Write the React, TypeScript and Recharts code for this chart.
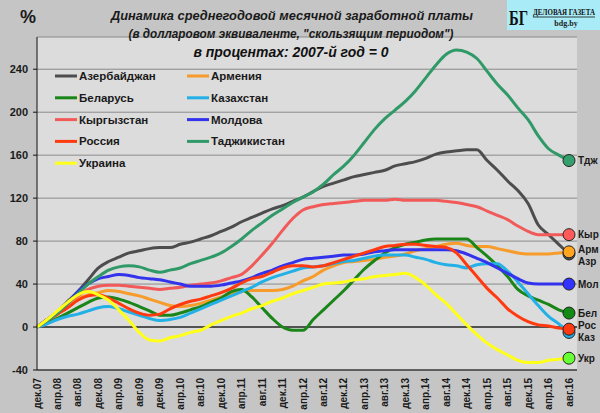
import React from "react";
import { LineChart, Line, XAxis, YAxis, CartesianGrid, ReferenceLine } from "recharts";

const months = ["дек.07","фев.08","апр.08","июн.08","авг.08","окт.08","дек.08","фев.09","апр.09","июн.09","авг.09","окт.09","дек.09","фев.10","апр.10","июн.10","авг.10","окт.10","дек.10","фев.11","апр.11","июн.11","авг.11","окт.11","дек.11","фев.12","апр.12","июн.12","авг.12","окт.12","дек.12","фев.13","апр.13","июн.13","авг.13","окт.13","дек.13","фев.14","апр.14","июн.14","авг.14","окт.14","дек.14","фев.15","апр.15","июн.15","авг.15","окт.15","дек.15","фев.16","апр.16","июн.16","авг.16"];

const azerbaijan = [0,7,14,24,33,44,55,61,65,69,71,73,74,74,77,79,82,85,89,93,98,102,106,110,113,117,121,126,131,134,137,140,142,144,146,150,152,154,157,161,163,164,165,165,155,146,136,127,115,95,86,77,68];
const armenia = [0,6,12,19,26,30,32,34,33,31,29,26,23,20,19,20,22,25,28,31,33,34,34,34,35,38,43,47,53,57,60,61,62,63,65,66,68,71,73,75,77,78,76,75,75,73,71,69,68,68,68,69,70];
const belarus = [0,4,8,13,18,23,27,28,26,23,19,15,11,11,13,16,19,23,27,33,35,28,18,8,0,-3,-3,7,16,25,34,44,54,62,69,74,77,79,81,82,82,82,82,74,66,57,47,35,29,25,21,16,13];
const kazakhstan = [0,3,7,10,12,15,18,19,17,14,11,8,6,7,9,13,17,21,25,29,33,37,42,46,49,52,55,56,57,59,61,62,64,66,67,67,67,65,63,60,58,57,55,58,59,59,52,42,31,20,10,3,-5];
const kyrgyzstan = [0,7,14,22,29,35,38,39,39,38,37,36,35,36,37,39,40,41,43,46,49,57,67,78,90,101,109,112,114,115,116,117,118,118,118,119,118,118,118,118,117,116,114,112,108,104,100,94,89,86,86,86,86];
const moldova = [0,7,14,22,33,40,45,47,49,48,46,45,44,42,40,38,38,38,39,41,43,46,50,53,57,60,63,64,65,66,67,67,68,70,71,72,72,72,72,72,72,71,68,64,60,55,50,45,41,40,40,40,40];
const russia = [0,6,12,18,25,29,30,27,22,17,13,11,12,17,21,24,26,29,32,36,41,45,47,51,55,57,57,56,57,60,63,66,69,72,75,76,77,77,76,75,74,69,58,47,36,27,17,10,5,2,1,-1,-2];
const tajikistan = [0,6,13,22,31,40,47,53,56,57,56,53,51,53,55,59,62,65,69,75,82,90,97,104,110,116,121,126,133,142,150,160,172,184,194,202,210,220,232,244,254,258,256,250,238,226,216,204,193,178,166,160,155];
const ukraine = [0,7,15,23,30,33,30,25,16,6,-5,-12,-13,-10,-8,-5,-3,2,6,10,13,17,20,24,27,31,34,37,40,41,42,44,45,47,48,49,50,46,39,30,22,12,2,-7,-15,-21,-26,-31,-33,-33,-31,-30,-29];

const yTicks = [-40, 0, 40, 80, 120, 160, 200, 240];

const series = [
  { key: "az", name: "Азербайджан", values: azerbaijan, color: "#4d4d4d", dot: "#4d4d4d", label: "Азр", dy: 8 },
  { key: "am", name: "Армения", values: armenia, color: "#f79b2a", dot: "#ffa51f", label: "Арм", dy: -2 },
  { key: "by", name: "Беларусь", values: belarus, color: "#1a861a", dot: "#138a13", label: "Бел", dy: 0 },
  { key: "kz", name: "Казахстан", values: kazakhstan, color: "#22b0e6", dot: "#22b0e6", label: "Каз", dy: 5 },
  { key: "kg", name: "Кыргызстан", values: kyrgyzstan, color: "#f25a5a", dot: "#ff5a5a", label: "Кыр", dy: 0 },
  { key: "md", name: "Молдова", values: moldova, color: "#3333ee", dot: "#3333ff", label: "Мол", dy: 0 },
  { key: "ru", name: "Россия", values: russia, color: "#ff3a10", dot: "#ff3a10", label: "Рос", dy: -4 },
  { key: "tj", name: "Таджикистан", values: tajikistan, color: "#2f9a68", dot: "#35a06d", label: "Тдж", dy: 0 },
  { key: "ua", name: "Украина", values: ukraine, color: "#ffff1a", dot: "#66ff33", label: "Укр", dy: 0 },
];

const data = months.map((m, i) => {
  const row: any = { month: m };
  series.forEach((s) => (row[s.key] = s.values[i]));
  return row;
});

const LAST = months.length - 1;
const FONT = "'Liberation Sans', Arial, sans-serif";

const makeDot = (s: any) => (props: any) => {
  const { cx, cy, index } = props;
  if (index !== LAST) return <g key={`${s.key}-${index}`} />;
  return (
    <g key={`${s.key}-${index}`}>
      <circle cx={cx} cy={cy} r={6} fill={s.dot} stroke="#222" strokeWidth={1} />
      <text x={cx + 9} y={cy + s.dy} dominantBaseline="central" fontSize={10} fontWeight="bold" fill="#1a1a1a" fontFamily={FONT}>
        {s.label}
      </text>
    </g>
  );
};

const XTick = (props: any) => {
  const { x, y, payload } = props;
  return (
    <text x={x} y={y} transform={`rotate(-90 ${x} ${y})`} textAnchor="end" dominantBaseline="central" fontSize={10} fontWeight="bold" fill="#1a1a1a" fontFamily={FONT}>
      {payload.value}
    </text>
  );
};

const legendRows = [
  ["az", "am"],
  ["by", "kz"],
  ["kg", "md"],
  ["ru", "tj"],
  ["ua"],
];

export default function App() {
  return (
    <div style={{ position: "absolute", left: 0, top: 0, width: 600, height: 413, background: "#c5c5c5", fontFamily: FONT }}>
      <LineChart width={600} height={413} data={data} margin={{ top: 37, right: 23, bottom: 0, left: 0 }}>
        <CartesianGrid vertical={false} stroke="#8a8a8a" fill="#dcdcdc" fillOpacity={1} />
        <XAxis
          dataKey="month"
          interval={1}
          tick={<XTick />}
          tickLine={false}
          axisLine={{ stroke: "#111" }}
          height={43}
          padding={{ left: 0, right: 8 }}
        />
        <YAxis
          domain={[-40, 270]}
          ticks={yTicks}
          allowDataOverflow
          width={37}
          tickSize={4}
          tickLine={{ stroke: "#111" }}
          axisLine={{ stroke: "#111" }}
          tick={{ fontSize: 11, fontWeight: "bold", fill: "#1a1a1a", fontFamily: FONT }}
          tickMargin={5}
        />
        <ReferenceLine y={0} stroke="#333" strokeWidth={1.5} />
        {series.map((s) => (
          <Line
            key={s.key}
            dataKey={s.key}
            name={s.name}
            type="monotone"
            stroke={s.color}
            strokeWidth={3}
            dot={makeDot(s)}
            activeDot={false}
            isAnimationActive={false}
          />
        ))}
      </LineChart>
      <svg width={600} height={413} style={{ position: "absolute", left: 0, top: 0, pointerEvents: "none" }}>
        <text x={28} y={23} textAnchor="middle" fontSize={18} fontWeight="bold" fill="#1a1a1a" fontFamily={FONT}>%</text>
        <text x={292} y={20} textAnchor="middle" fontSize={13} fontWeight="bold" fontStyle="italic" fill="#1a1a1a" fontFamily={FONT} textLength={362} lengthAdjust="spacingAndGlyphs">
          Динамика среднегодовой  месячной  заработной платы
        </text>
        <text x={291} y={38} textAnchor="middle" fontSize={12.5} fontWeight="bold" fontStyle="italic" fill="#1a1a1a" fontFamily={FONT} textLength={325} lengthAdjust="spacingAndGlyphs">
          (в долларовом  эквиваленте, "скользящим периодом")
        </text>
        <text x={291} y={57} textAnchor="middle" fontSize={15.5} fontWeight="bold" fontStyle="italic" fill="#111" fontFamily={FONT} textLength={195} lengthAdjust="spacingAndGlyphs">
          в процентах: 2007-й год = 0
        </text>
        <rect x={507} y={0} width={93} height={30} fill="#a9ecf7" />
        <text x={509} y={25} fontSize={22} fontWeight="bold" fill="#111" fontFamily="'Liberation Serif', serif" textLength={19} lengthAdjust="spacingAndGlyphs">БГ</text>
        <g transform="translate(533 15) scale(1 1.25)">
          <text x={0} y={0} fontSize={7} fontWeight="bold" fill="#111" fontFamily="'Liberation Serif', serif" textLength={62} lengthAdjust="spacingAndGlyphs">ДЕЛОВАЯ ГАЗЕТА</text>
        </g>
        <line x1={533} y1={17} x2={595} y2={17} stroke="#111" strokeWidth={0.8} />
        <text x={566} y={26} textAnchor="middle" fontSize={8} fontWeight="bold" fill="#222" fontFamily="'Liberation Serif', serif">bdg.by</text>
        {legendRows.map((row, r) =>
          row.map((k, c) => {
            const s = series.find((q) => q.key === k)!;
            const x = c === 0 ? 55 : 187;
            const y = 76 + r * 21.8;
            return (
              <g key={k}>
                <line x1={x} y1={y} x2={x + 22} y2={y} stroke={s.color} strokeWidth={3} />
                <text x={x + 24} y={y} dominantBaseline="central" fontSize={11.5} fontWeight="bold" fill="#1a1a1a" fontFamily={FONT}>
                  {s.name}
                </text>
              </g>
            );
          })
        )}
      </svg>
    </div>
  );
}
